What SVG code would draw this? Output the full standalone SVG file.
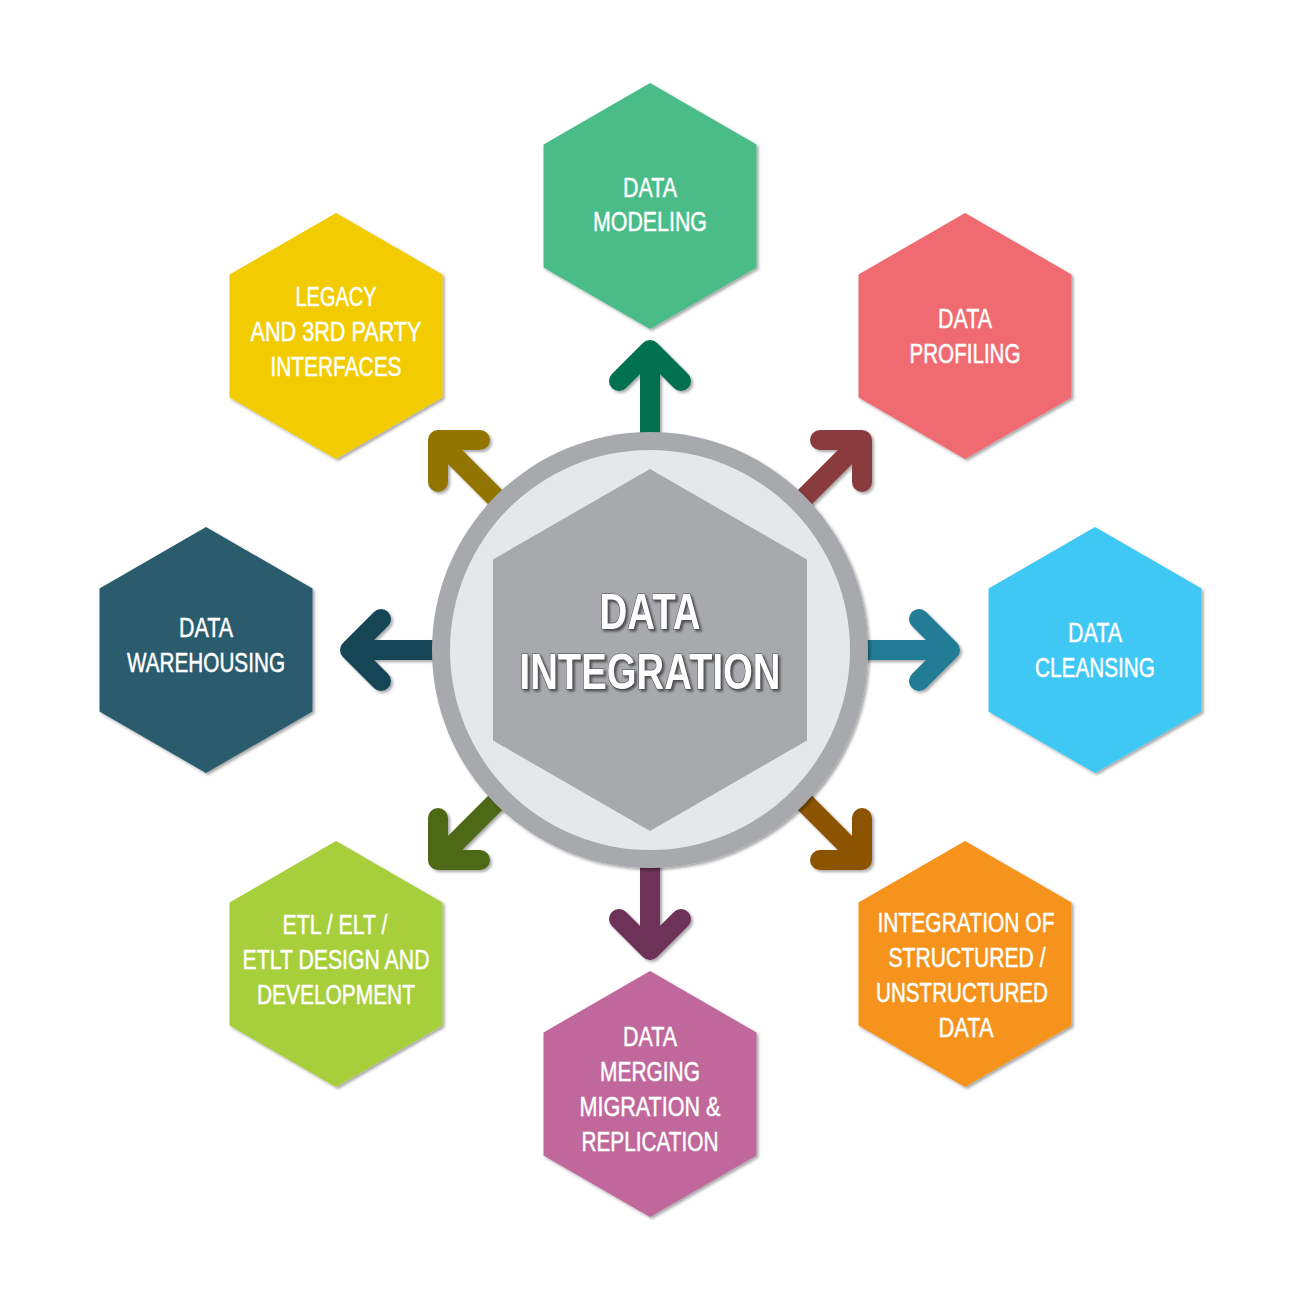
<svg xmlns="http://www.w3.org/2000/svg" xmlns:xlink="http://www.w3.org/1999/xlink" width="1300" height="1300" viewBox="0 0 1300 1300">
  <defs>
    <filter id="sh" x="-10%" y="-10%" width="125%" height="125%">
      <feDropShadow dx="2" dy="2" stdDeviation="1.5" flood-color="#000" flood-opacity="0.35"/>
    </filter>
    <filter id="tsh" x="-10%" y="-20%" width="125%" height="150%">
      <feDropShadow dx="2" dy="2" stdDeviation="1" flood-color="#3a3a3c" flood-opacity="0.8"/>
    </filter>
    <polygon id="hex" points="0,-123 106.5,-61.5 106.5,61.5 0,123 -106.5,61.5 -106.5,-61.5"/>
  </defs>
  <style>
    .lbl { fill: #ffffff; stroke: #ffffff; stroke-width: 0.5px; font-family: "Liberation Sans Narrow", "Liberation Sans", Arial, sans-serif; font-size: 28px; text-anchor: middle; }
    .ttl { fill: #ffffff; font-family: "Liberation Sans Narrow", "Liberation Sans", Arial, sans-serif; font-weight: bold; font-size: 50px; text-anchor: middle; stroke: #4d4d4f; stroke-width: 1.2px; paint-order: stroke; }
    .arr { fill: none; stroke-width: 20; stroke-linecap: round; stroke-linejoin: round; }
  </style>
  <rect width="1300" height="1300" fill="#ffffff"/>

  <g id="connectors" filter="url(#sh)">
    <path class="arr" stroke="#036F4F" d="M650,480 V350 M619,381 L650,350 L681,381"/>
    <path class="arr" stroke="#8A3A3E" d="M782,520 L862,440 M820,440 H862 V482"/>
    <path class="arr" stroke="#227B96" d="M820,650 H950 M919,619 L950,650 L919,681"/>
    <path class="arr" stroke="#8C5300" d="M782,780 L862,860 M862,818 V860 H820"/>
    <path class="arr" stroke="#6E3158" d="M650,820 V950 M619,919 L650,950 L681,919"/>
    <path class="arr" stroke="#4E6918" d="M518,780 L438,860 M438,818 V860 H480"/>
    <path class="arr" stroke="#164556" d="M480,650 H350 M381,619 L350,650 L381,681"/>
    <path class="arr" stroke="#917500" d="M518,520 L438,440 M480,440 H438 V482"/>
  </g>

  <g id="center">
    <circle cx="650" cy="650" r="218" fill="#A7A9AC" filter="url(#sh)"/>
    <circle cx="650" cy="650" r="200" fill="#E6E7E8"/>
    <polygon points="650,469 807,559.5 807,740.5 650,831 493,740.5 493,559.5" fill="#A7A9AC"/>
    <g filter="url(#tsh)">
      <text class="ttl" x="650" y="629" textLength="101" lengthAdjust="spacingAndGlyphs">DATA</text>
      <text class="ttl" x="650" y="689" textLength="261" lengthAdjust="spacingAndGlyphs">INTEGRATION</text>
    </g>
  </g>

  <g id="data-modeling">
    <use xlink:href="#hex" x="650" y="206" fill="#49BC88" filter="url(#sh)"/>
    <text class="lbl" x="650" y="197" textLength="54" lengthAdjust="spacingAndGlyphs">DATA</text>
    <text class="lbl" x="650" y="231" textLength="114" lengthAdjust="spacingAndGlyphs">MODELING</text>
  </g>

  <g id="data-profiling">
    <use xlink:href="#hex" x="965" y="336" fill="#F06B71" filter="url(#sh)"/>
    <text class="lbl" x="965" y="328" textLength="54" lengthAdjust="spacingAndGlyphs">DATA</text>
    <text class="lbl" x="965" y="363" textLength="111" lengthAdjust="spacingAndGlyphs">PROFILING</text>
  </g>

  <g id="data-cleansing">
    <use xlink:href="#hex" x="1095" y="650" fill="#41C8F4" filter="url(#sh)"/>
    <text class="lbl" x="1095" y="642" textLength="54" lengthAdjust="spacingAndGlyphs">DATA</text>
    <text class="lbl" x="1095" y="677" textLength="120" lengthAdjust="spacingAndGlyphs">CLEANSING</text>
  </g>

  <g id="integration-structured">
    <use xlink:href="#hex" x="965" y="964" fill="#F6931F" filter="url(#sh)"/>
    <text class="lbl" x="966" y="932" textLength="177" lengthAdjust="spacingAndGlyphs">INTEGRATION OF</text>
    <text class="lbl" x="967" y="967" textLength="157" lengthAdjust="spacingAndGlyphs">STRUCTURED /</text>
    <text class="lbl" x="962" y="1002" textLength="172" lengthAdjust="spacingAndGlyphs">UNSTRUCTURED</text>
    <text class="lbl" x="966" y="1037" textLength="55" lengthAdjust="spacingAndGlyphs">DATA</text>
  </g>

  <g id="data-merging">
    <use xlink:href="#hex" x="650" y="1094" fill="#C0679C" filter="url(#sh)"/>
    <text class="lbl" x="650" y="1046" textLength="54" lengthAdjust="spacingAndGlyphs">DATA</text>
    <text class="lbl" x="650" y="1081" textLength="100" lengthAdjust="spacingAndGlyphs">MERGING</text>
    <text class="lbl" x="650" y="1116" textLength="141" lengthAdjust="spacingAndGlyphs">MIGRATION &amp;</text>
    <text class="lbl" x="650" y="1151" textLength="137" lengthAdjust="spacingAndGlyphs">REPLICATION</text>
  </g>

  <g id="etl-design">
    <use xlink:href="#hex" x="336" y="964" fill="#A7CE3A" filter="url(#sh)"/>
    <text class="lbl" x="335" y="934" textLength="105" lengthAdjust="spacingAndGlyphs">ETL / ELT /</text>
    <text class="lbl" x="336" y="969" textLength="187" lengthAdjust="spacingAndGlyphs">ETLT DESIGN AND</text>
    <text class="lbl" x="336" y="1004" textLength="158" lengthAdjust="spacingAndGlyphs">DEVELOPMENT</text>
  </g>

  <g id="data-warehousing">
    <use xlink:href="#hex" x="206" y="650" fill="#295B6D" filter="url(#sh)"/>
    <text class="lbl" x="206" y="637" textLength="54" lengthAdjust="spacingAndGlyphs">DATA</text>
    <text class="lbl" x="206" y="672" textLength="158" lengthAdjust="spacingAndGlyphs">WAREHOUSING</text>
  </g>

  <g id="legacy-interfaces">
    <use xlink:href="#hex" x="336" y="336" fill="#F2CC05" filter="url(#sh)"/>
    <text class="lbl" x="336" y="306" textLength="81" lengthAdjust="spacingAndGlyphs">LEGACY</text>
    <text class="lbl" x="336" y="341" textLength="171" lengthAdjust="spacingAndGlyphs">AND 3RD PARTY</text>
    <text class="lbl" x="336" y="376" textLength="131" lengthAdjust="spacingAndGlyphs">INTERFACES</text>
  </g>
</svg>
